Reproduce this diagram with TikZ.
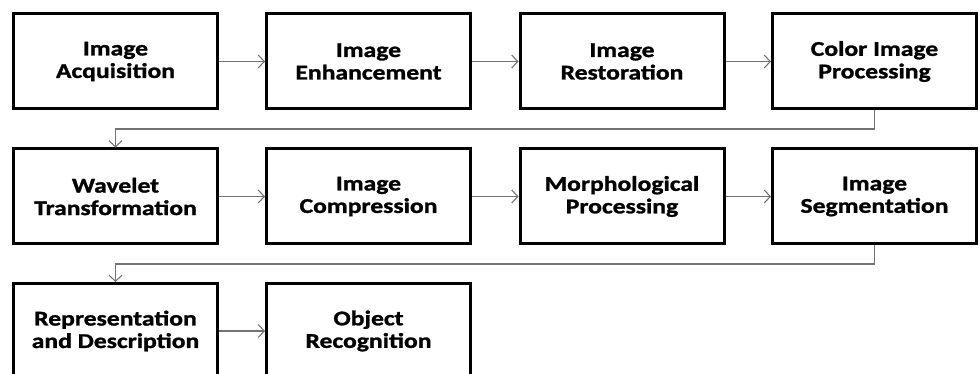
\documentclass[tikz,border=0pt]{standalone}
\usepackage{fontspec}
\setmainfont{Carlito}[FakeStretch=1.22,FakeBold=1.3]
\usetikzlibrary{arrows.meta}
\begin{document}
\begin{tikzpicture}[x=1pt,y=-1pt,
  stepbox/.style={draw=black, line width=3pt, minimum width=204pt, minimum height=95pt,
    inner sep=0pt, align=center, font=\fontsize{21}{22.5}\selectfont\bfseries},
  conn/.style={draw=gray!90!black, line width=1.2pt, -{Straight Barb[length=6pt,width=13pt,line width=1.1pt]}}]
\clip (0,0) rectangle (980,374);
\useasboundingbox (0,0) rectangle (980,374);
\fill[white] (0,0) rectangle (980,374);
% row 1
\node[stepbox] (a1) at (115.5,61.5) {Image\\Acquisition};
\node[stepbox] (a2) at (368.5,61.5) {Image\\Enhancement};
\node[stepbox] (a3) at (622,61.5) {Image\\Restoration};
\node[stepbox] (a4) at (874.5,61.5) {Color Image\\Processing};
% row 2
\node[stepbox] (b1) at (115.5,196.5) {Wavelet\\Transformation};
\node[stepbox] (b2) at (368.5,196.5) {Image\\Compression};
\node[stepbox] (b3) at (622,196.5) {Morphological\\Processing};
\node[stepbox] (b4) at (874.5,196.5) {Image\\Segmentation};
% row 3
\node[stepbox] (c1) at (115.5,331) {Representation\\and Description};
\node[stepbox] (c2) at (368.5,331) {Object\\Recognition};
% connectors
\draw[conn] (a1) -- (a2);
\draw[conn] (a2) -- (a3);
\draw[conn] (a3) -- (a4);
\draw[conn] (b1) -- (b2);
\draw[conn] (b2) -- (b3);
\draw[conn] (b3) -- (b4);
\draw[conn] (c1) -- (c2);
\coordinate (k1) at (874.5,129);
\coordinate (k2) at (874.5,264);
\draw[conn] (a4.south) -- (k1) -| (b1.north);
\draw[conn] (b4.south) -- (k2) -| (c1.north);
\end{tikzpicture}
\end{document}
